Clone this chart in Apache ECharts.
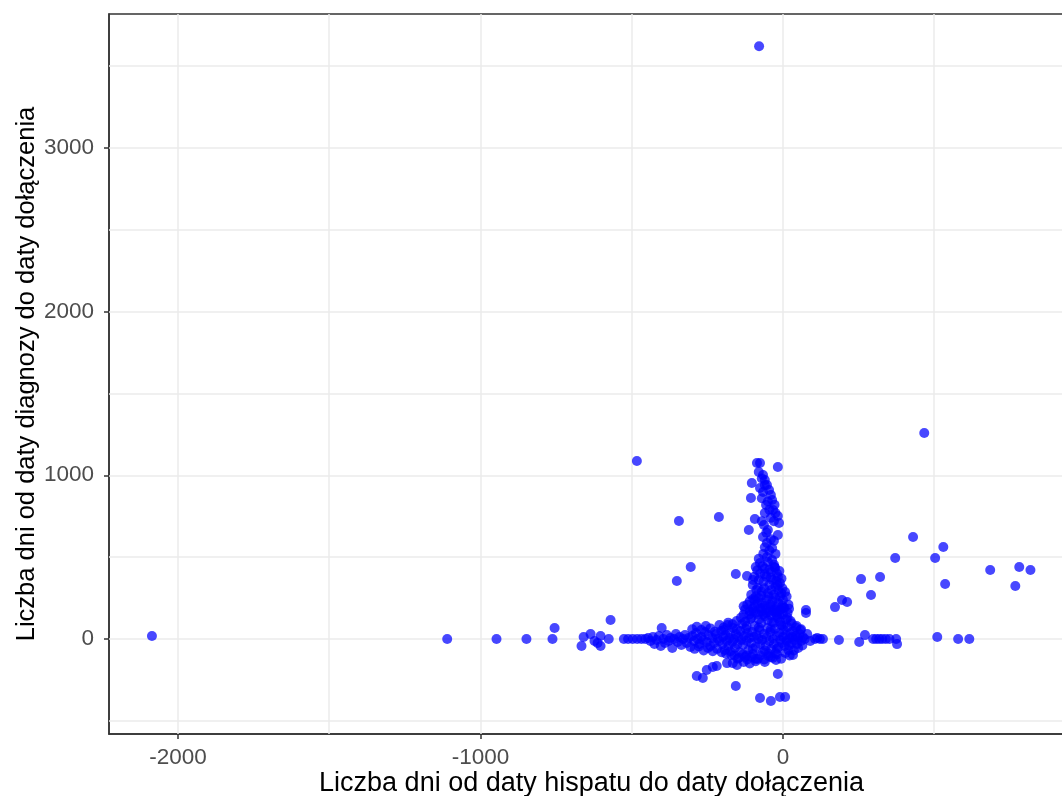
<!DOCTYPE html>
<html><head><meta charset="utf-8">
<script src="https://cdn.jsdelivr.net/npm/echarts@6/dist/echarts.min.js"></script>
<style>html,body{margin:0;padding:0;overflow:hidden;background:#fff}#c{width:1100px;height:796px}</style>
</head><body><div id="c"></div>
<script>
const xTicks = [-2000, -1000, 0];
const yTicks = [0, 1000, 2000, 3000];
const xGrid = [-2000, -1500, -1000, -500, 0, 500];
const yGrid = [-500, 0, 500, 1000, 1500, 2000, 2500, 3000, 3500];
const xTitle = 'Liczba dni od daty hispatu do daty dołączenia';
const yTitle = 'Liczba dni od daty diagnozy do daty dołączenia';

const outliers = [[-2086,18],[-79,3620],[-1110,0],[-947,0],[-848,0],[-762,0],[-755,67],[-483,1087],[467,1258],[-344,721],[-212,745],[-305,440],[-351,354],[-570,116]];

const leftBand = [[-666,-43],[-659,12],[-636,30],[-623,-12],[-613,-24],[-603,18],[-603,-43],[-576,0],[-526,0],[-512,0],[-497,0],[-482,0],[-468,0],[-455,0],[-446,6],[-438,-12],[-430,12],[-425,-30],[-418,-6],[-410,18],[-404,-43],[-401,67],[-396,0],[-390,-24],[-384,24],[-378,-12],[-372,6],[-366,-55],[-360,0],[-354,30],[-348,-18],[-342,12],[-336,-37],[-330,0],[-324,24],[-318,-24],[-312,6],[-306,-49],[-300,18],[-294,-12],[-288,37],[-282,0],[-276,-30],[-270,12],[-264,-6],[-258,43],[-252,-18],[-246,24],[-240,-43],[-234,6],[-228,-24],[-222,30],[-216,0],[-210,-12],[-204,49]];

const core = [[-200,-30],[-198,12],[-195,55],[-192,-67],[-190,24],[-186,-12],[-183,85],[-180,-43],[-177,6],[-174,37],[-171,-98],[-168,-18],[-165,67],[-162,0],[-159,-55],[-156,30],[-153,110],[-150,-30],[-147,12],[-144,-80],[-141,49],[-138,-6],[-135,92],[-132,-37],[-129,18],[-126,-110],[-123,61],[-120,-12],[-117,37],[-114,-67],[-111,6],[-108,122],[-105,-24],[-102,43],[-99,-92],[-96,12],[-93,79],[-90,-49],[-87,24],[-84,-122],[-81,0],[-78,55],[-75,-30],[-72,98],[-69,-6],[-66,-80],[-63,30],[-60,140],[-57,-43],[-54,12],[-51,67],[-48,-104],[-45,-12],[-42,43],[-39,-61],[-36,104],[-33,0],[-30,-30],[-27,61],[-24,-86],[-21,18],[-18,128],[-15,-49],[-12,37],[-9,-6],[-6,86],[-3,-24],[0,12],[3,55],[6,-43],[9,24],[12,-12],[15,73],[18,-67],[21,6],[24,37],[27,-24],[30,12],[34,49],[38,-6],[42,18],[46,-30],[50,6],[55,30],[60,-12],[66,12],[72,0]];

const coreOuter = [[-300,60],[-292,-60],[-285,75],[-278,-45],[-270,55],[-262,-70],[-255,80],[-248,-55],[-240,65],[-232,-75],[-225,45],[-218,-60],[-210,85],[-203,-80],[-196,70],[-188,-90],[-181,100],[-174,-75],[-167,90],[-160,-100],[-153,60],[-146,-115],[-139,130],[-132,-95],[-125,105],[-118,-125],[-111,150],[-104,-110],[-97,170],[-90,-120],[-83,150],[-76,-100],[-69,190],[-62,-125],[-55,160],[-48,-90],[-41,200],[-34,-115],[-27,180],[-20,-95],[-13,150],[-6,-120],[1,190],[8,-85],[15,130],[22,-100],[29,95],[36,-70],[43,70],[50,-55],[57,55],[64,-40],[-130,200],[-110,230],[-90,260],[-120,80],[-100,-60],[-80,70],[-60,-70],[-40,60],[-20,-60],[0,80],[20,-40]];

const column = [[-86,1075],[-76,1075],[-17,1051],[-66,1002],[-60,971],[-103,953],[-53,941],[-76,922],[-66,898],[-106,861],[-36,849],[-56,818],[-33,788],[-17,751],[-93,733],[-13,709],[-113,666],[-63,696],[-50,666],[-17,635],[-66,623],[-53,586],[-36,556],[-76,464],[-53,501],[-36,483],[-26,434],[-17,379],[-10,342],[7,287],[-156,397],[-119,385],[-99,360],[-93,238],[-83,312],[-70,220],[-70,980],[-80,1020],[-60,940],[-46,910],[-40,880],[-70,860],[-50,840],[-28,820],[-45,790],[-60,770],[-25,770],[-40,740],[-70,720],[-30,720],[-55,650],[-40,610],[-30,600],[-60,560],[-45,540],[-25,520],[-65,520],[-80,490],[-50,470],[-30,455],[-90,440],[-60,430],[-40,410],[-20,400],[-75,400],[-55,380],[-100,330],[-35,360],[-65,350],[-45,330],[-25,320],[-15,300],[-70,290],[-50,280],[-30,270],[-10,260],[-105,270],[-80,250],[-55,240],[-35,230],[-15,220],[0,240],[-95,200],[-75,190],[-55,185],[-35,175],[-15,170],[5,190],[-110,170],[-90,160],[-65,150],[-40,145],[-20,140],[0,150],[15,160],[-130,150],[-105,130],[-80,120],[-50,115],[-30,100],[-10,105],[10,120],[25,110]];

const columnBase = [[-85,420],[-68,445],[-45,425],[-28,440],[-12,415],[-95,380],[-80,360],[-60,395],[-40,375],[-22,355],[-5,370],[-88,300],[-62,310],[-38,300],[-18,330],[-2,310],[-98,245],[-72,265],[-48,260],[-25,250],[-5,280],[12,260],[-118,210],[-85,215],[-60,205],[-42,210],[-20,195],[-2,205],[18,210],[-125,180],[-100,185],[-70,170],[-45,165],[-25,160],[-8,180],[20,185]];

const rightArm = [[76,177],[76,159],[172,195],[195,238],[212,226],[258,366],[321,379],[291,269],[371,495],[430,623],[503,495],[530,562],[536,336],[685,421],[781,440],[818,421],[768,324],[106,0],[113,6],[122,0],[132,0],[185,-6],[252,-18],[271,24],[298,0],[308,0],[318,0],[328,0],[340,0],[352,0],[374,0],[377,-31],[510,12],[579,0],[616,0],[33,-98],[90,-12],[80,30],[60,60],[45,80]];

const lower = [[-23,-128],[-17,-214],[-156,-287],[-76,-360],[-40,-379],[-10,-354],[7,-354],[-285,-226],[-265,-238],[-252,-189],[-232,-171],[-219,-165],[-185,-147],[-166,-147],[-152,-159],[-130,-140],[-110,-150],[-90,-135],[-60,-140],[-40,-110],[-150,-120],[-120,-100]];

const points = [].concat(outliers, leftBand, core, coreOuter, column, columnBase, rightArm, lower);

const font = 'Liberation Sans, Arial, sans-serif';
const gridColor = '#ebebeb';
const chart = echarts.init(document.getElementById('c'), null, {renderer: 'canvas'});
chart.setOption({
  animation: false,
  grid: {left: 109, right: 26, top: 14, bottom: 62, containLabel: false, outerBoundsMode: 'none', show: true, borderColor: '#333', borderWidth: 1.5, backgroundColor: 'transparent', z: 0},
  xAxis: {
    type: 'value', min: -2228, max: 962, position: 'bottom',
    name: xTitle, nameLocation: 'middle', nameGap: 36, nameMoveOverlap: false,
    nameTextStyle: {fontFamily: font, fontSize: 27, color: '#000'},
    axisLine: {show: true, onZero: false, lineStyle: {color: '#333', width: 1.5}},
    axisTick: {show: true, customValues: xTicks, length: 5, lineStyle: {color: '#333', width: 1.5}},
    axisLabel: {customValues: xTicks, fontFamily: font, fontSize: 22.5, color: '#4d4d4d', margin: 12, formatter: v => String(v)},
    splitLine: {show: false}
  },
  yAxis: {
    type: 'value', min: -580, max: 3817, position: 'left',
    name: yTitle, nameLocation: 'middle', nameGap: 69, nameRotate: 90, nameMoveOverlap: false,
    nameTextStyle: {fontFamily: font, fontSize: 25.5, color: '#000'},
    axisLine: {show: true, onZero: false, lineStyle: {color: '#333', width: 1.5}},
    axisTick: {show: true, customValues: yTicks, length: 5, lineStyle: {color: '#333', width: 1.5}},
    axisLabel: {customValues: yTicks, fontFamily: font, fontSize: 22.5, color: '#4d4d4d', margin: 15, formatter: v => String(v)},
    splitLine: {show: false}
  },
  series: [
    {
      type: 'scatter', data: [], z: 1, silent: true,
      markLine: {
        silent: true, symbol: 'none', label: {show: false}, animation: false, z: 1,
        lineStyle: {color: gridColor, width: 1.5, type: 'solid'},
        data: xGrid.map(v => ({xAxis: v})).concat(yGrid.map(v => ({yAxis: v})))
      }
    },
    {
      type: 'scatter', data: points, z: 10, symbolSize: 10,
      itemStyle: {color: 'rgba(0,0,255,0.9)'}
    }
  ]
});
</script></body></html>
